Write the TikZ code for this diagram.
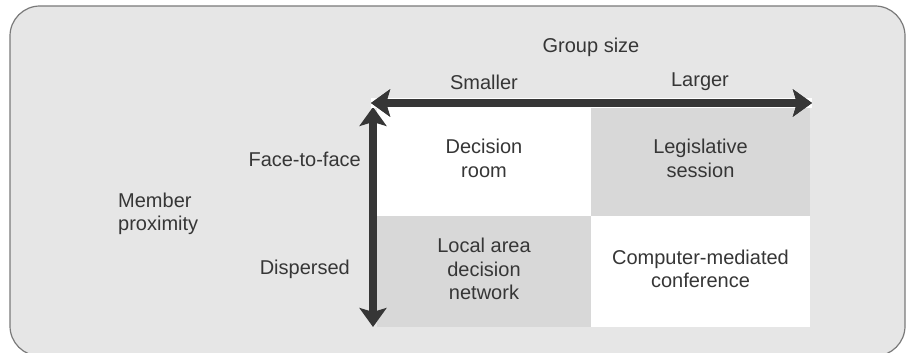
\documentclass[tikz,border=0pt]{standalone}
\usepackage{fontspec}
\setmainfont{Liberation Sans}
\usetikzlibrary{arrows.meta}
\definecolor{bg}{HTML}{E6E6E6}
\definecolor{cellgray}{HTML}{D8D8D8}
\definecolor{ink}{HTML}{363636}
\definecolor{frame}{HTML}{7A7A7A}
\tikzset{
  cellbox/.style={draw=none, inner sep=0pt},
  cell/.style={inner sep=0pt, align=center, text=ink,
    font=\fontsize{20pt}{23.5pt}\selectfont},
  lbl/.style={inner sep=0pt, text=ink, font=\fontsize{20pt}{23.5pt}\selectfont},
  bigarrow/.style={draw=ink, line width=8pt,
    {Stealth[length=19pt,width=27pt,inset=4pt]}-{Stealth[length=19pt,width=27pt,inset=4pt]}}
}
\begin{document}
\begin{tikzpicture}[x=1pt,y=-1pt]
\useasboundingbox (0,0) rectangle (907,353);
\begin{scope}
\clip (0,0) rectangle (907,353);
\draw[frame, line width=1.2pt, fill=bg, rounded corners=30pt] (10,6) rectangle (905,356);
\end{scope}
% cell backgrounds
\node[cellbox, fill=white, minimum width=214pt, minimum height=108pt] (b11) at (484,162) {};
\node[cellbox, fill=cellgray, minimum width=219pt, minimum height=108pt] (b12) at (700.5,162) {};
\node[cellbox, fill=cellgray, minimum width=214pt, minimum height=111pt] (b21) at (484,271.5) {};
\node[cellbox, fill=white, minimum width=219pt, minimum height=111pt] (b22) at (700.5,271.5) {};
% cell texts
\node[cell] (c11) at ([yshift=3.5pt]b11.center) {Decision\\room};
\node[cell] (c12) at ([yshift=3.5pt]b12.center) {Legislative\\session};
\node[cell] (c21) at ([yshift=2.5pt]b21.center) {Local area\\decision\\network};
\node[cell] (c22) at ([yshift=2.5pt]b22.center) {Computer-mediated\\conference};
% arrow anchors
\coordinate (vtop) at (373,107);
\coordinate (vbot) at (373,327);
\coordinate (hleft) at (371,103);
\coordinate (hright) at (812,103);
\draw[bigarrow] (vtop) -- (vbot);
\draw[bigarrow, preaction={draw=white, line width=10pt, -}] (hleft) -- (hright);
\draw[bigarrow] (hleft) -- (hright);
% labels
\node[lbl] (gs) at (591,47) {Group size};
\node[lbl] (sm) at (484,82) {Smaller};
\node[lbl] (lg) at (700,82) {Larger};
\node[lbl, anchor=east] (ff) at (361,159) {Face-to-face};
\node[lbl, anchor=east] (dp) at (350,269) {Dispersed};
\node[lbl, anchor=west, align=left] (mp) at (118,214) {Member\\proximity};
\end{tikzpicture}
\end{document}
